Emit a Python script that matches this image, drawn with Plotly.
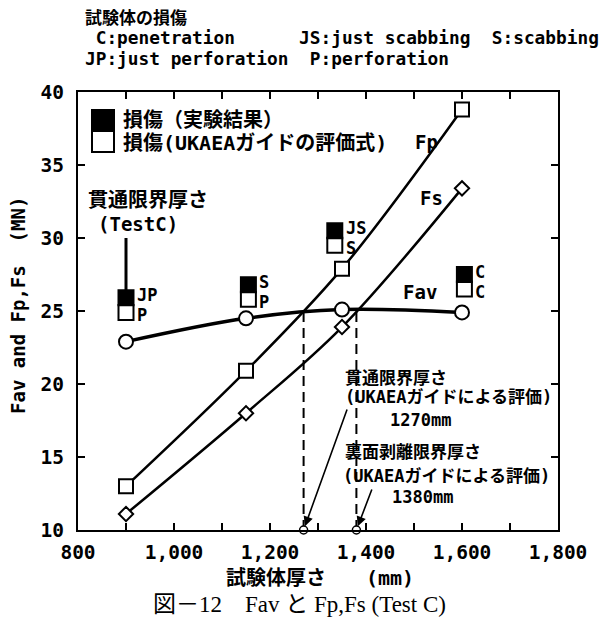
import plotly.graph_objects as go

# Specimen thickness (mm) and forces (MN)
thickness = [900, 1150, 1350, 1600]
fav = [22.9, 24.5, 25.1, 24.9]
fp = [13.0, 20.9, 27.9, 38.8]
fs = [11.1, 18.0, 23.9, 33.4]

# Damage markers: test result (filled) stacked over UKAEA guide evaluation (open)
damage_x = [900, 1155, 1335, 1605]
damage_test = [25.9, 26.8, 30.5, 27.5]
damage_ukaea = [24.9, 25.8, 29.5, 26.5]
damage_test_labels = ["JP", "S", "JS", "C"]
damage_ukaea_labels = ["P", "P", "S", "C"]

# Limit thicknesses by UKAEA guide: perforation 1270 mm, scabbing 1380 mm
limit_x = [1270, 1380]
limit_top = [25.1, 25.2]
axis_floor = 10

# Perforation limit thickness of Test C
testc_x = 900
testc_span = [30.0, 26.4]

x_ticks = list(range(800, 1801, 100))
x_tick_text = ["800", "", "1,000", "", "1,200", "", "1,400", "", "1,600", "", "1,800"]
y_ticks = [10, 15, 20, 25, 30, 35, 40]

MONO = "DejaVu Sans Mono, Noto Sans CJK JP"
SERIF = "Liberation Serif, Noto Sans CJK JP"

# plot area in pixels: x 78..558, y 92..530
L, R, T, B = 78, 558, 92, 530


def px(x):
    return (x - L) / (R - L)


def py(y):
    return (B - y) / (B - T)


fig = go.Figure()

fig.add_trace(go.Scatter(
    x=thickness, y=fp, mode="lines+markers", line=dict(color="black", width=2.5, shape="spline"),
    marker=dict(symbol="square", size=14, color="white", line=dict(color="black", width=2)),
))
fig.add_trace(go.Scatter(
    x=thickness, y=fs, mode="lines+markers", line=dict(color="black", width=2.5, shape="spline"),
    marker=dict(symbol="diamond", size=11, color="white", line=dict(color="black", width=2)),
))
fig.add_trace(go.Scatter(
    x=thickness, y=fav, mode="lines+markers", line=dict(color="black", width=3.5, shape="spline"),
    marker=dict(symbol="circle", size=14, color="white", line=dict(color="black", width=2)),
))

# dashed limit lines
for lx, lt in zip(limit_x, limit_top):
    fig.add_trace(go.Scatter(
        x=[lx, lx], y=[axis_floor, lt], mode="lines",
        line=dict(color="black", width=2, dash="10px,6px"),
    ))
fig.add_trace(go.Scatter(
    x=limit_x, y=[axis_floor] * len(limit_x), mode="markers", cliponaxis=False,
    marker=dict(symbol="circle", size=8, color="white", line=dict(color="black", width=1.5)),
))

# Test C pointer
fig.add_trace(go.Scatter(
    x=[testc_x, testc_x], y=testc_span, mode="lines", line=dict(color="black", width=3),
))

# damage markers
fig.add_trace(go.Scatter(
    x=damage_x, y=damage_ukaea, mode="markers",
    marker=dict(symbol="square", size=15, color="white", line=dict(color="black", width=2)),
))
fig.add_trace(go.Scatter(
    x=damage_x, y=damage_test, mode="markers",
    marker=dict(symbol="square", size=15, color="black", line=dict(color="black", width=2)),
))

ann = []

# damage labels next to the stacked markers
for dx, yt, yu, lt, lu in zip(damage_x, damage_test, damage_ukaea,
                              damage_test_labels, damage_ukaea_labels):
    for yv, lab, shift in ((yt, lt, 3), (yu, lu, -3)):
        ann.append(dict(
            x=dx, y=yv, xref="x", yref="y", text=lab, showarrow=False,
            xanchor="left", yanchor="middle", xshift=9, yshift=shift,
            font=dict(family=MONO, size=17, color="black", weight="bold"),
        ))


def text(x, y, s, size=18, family=MONO, anchor="left", weight="bold", angle=0):
    ann.append(dict(
        x=px(x), y=py(y), xref="paper", yref="paper", text=s, showarrow=False,
        xanchor=anchor, yanchor="middle", textangle=angle,
        font=dict(family=family, size=size, color="black", weight=weight),
    ))


# header
text(83, 18, "試験体の損傷", size=17)
text(83, 38, " C:penetration      JS:just scabbing  S:scabbing", size=17.8)
text(83, 59, "JP:just perforation  P:perforation", size=17.8)

# legend
text(121, 120, "損傷（実験結果）", size=20)
text(121, 143, "損傷(UKAEAガイドの評価式)", size=20)

# curve names
text(426, 142, "Fp", size=19, anchor="center")
text(431, 198, "Fs", size=19, anchor="center")
text(420, 292, "Fav", size=19, anchor="center")

# Test C label
text(86, 200, "貫通限界厚さ", size=20)
text(96, 224, "(TestC)", size=19)

# limit thickness notes
text(343, 378, "貫通限界厚さ", size=17)
text(343, 397, "(UKAEAガイドによる評価)", size=17)
text(420, 420, "1270mm", size=17, anchor="center")
text(343, 452, "裏面剥離限界厚さ", size=17)
text(341, 476, "(UKAEAガイドによる評価)", size=17)
text(422, 497, "1380mm", size=17, anchor="center")

# axis titles and caption
text(18, 306, "Fav and Fp,Fs  (MN)", size=19, anchor="center", angle=-90)
text(320, 578, "試験体厚さ　　(mm)", size=20, anchor="center")
text(299, 604, "図－12　Fav と Fp,Fs (Test C)", size=23, family=SERIF, anchor="center", weight="normal")

# arrows to the limit thickness points
for lx, (dx, dy) in zip(limit_x, [(44, -122), (16, -42)]):
    ann.append(dict(
        x=lx, y=axis_floor, xref="x", yref="y", ax=dx, ay=dy, text="", showarrow=True,
        arrowhead=2, arrowsize=1.2, arrowwidth=1.6, arrowcolor="black", standoff=4,
    ))

shapes = [
    dict(type="rect", xref="paper", yref="paper", x0=px(92), x1=px(114), y0=py(131), y1=py(110),
         fillcolor="black", line=dict(color="black", width=2)),
    dict(type="rect", xref="paper", yref="paper", x0=px(92), x1=px(114), y0=py(152), y1=py(131),
         fillcolor="white", line=dict(color="black", width=2)),
]

fig.update_layout(
    width=599, height=621, margin=dict(l=L, r=599 - R, t=T, b=621 - B),
    paper_bgcolor="white", plot_bgcolor="white", showlegend=False,
    annotations=ann, shapes=shapes,
    font=dict(family=MONO, color="black"),
)
fig.update_xaxes(
    range=[800, 1800], tickvals=x_ticks, ticktext=x_tick_text, ticks="inside", ticklen=7,
    tickwidth=2, tickcolor="black", showline=True, linewidth=2, linecolor="black", mirror="ticks",
    showgrid=False, zeroline=False, ticklabelstandoff=4,
    tickfont=dict(family=MONO, size=19.5, color="black", weight="bold"),
)
fig.update_yaxes(
    range=[10, 40], tickvals=y_ticks, ticks="inside", ticklen=7,
    tickwidth=2, tickcolor="black", showline=True, linewidth=2, linecolor="black", mirror="ticks",
    showgrid=False, zeroline=False, ticklabelstandoff=8,
    tickfont=dict(family=MONO, size=19.5, color="black", weight="bold"),
)

fig.write_html("out.html")
